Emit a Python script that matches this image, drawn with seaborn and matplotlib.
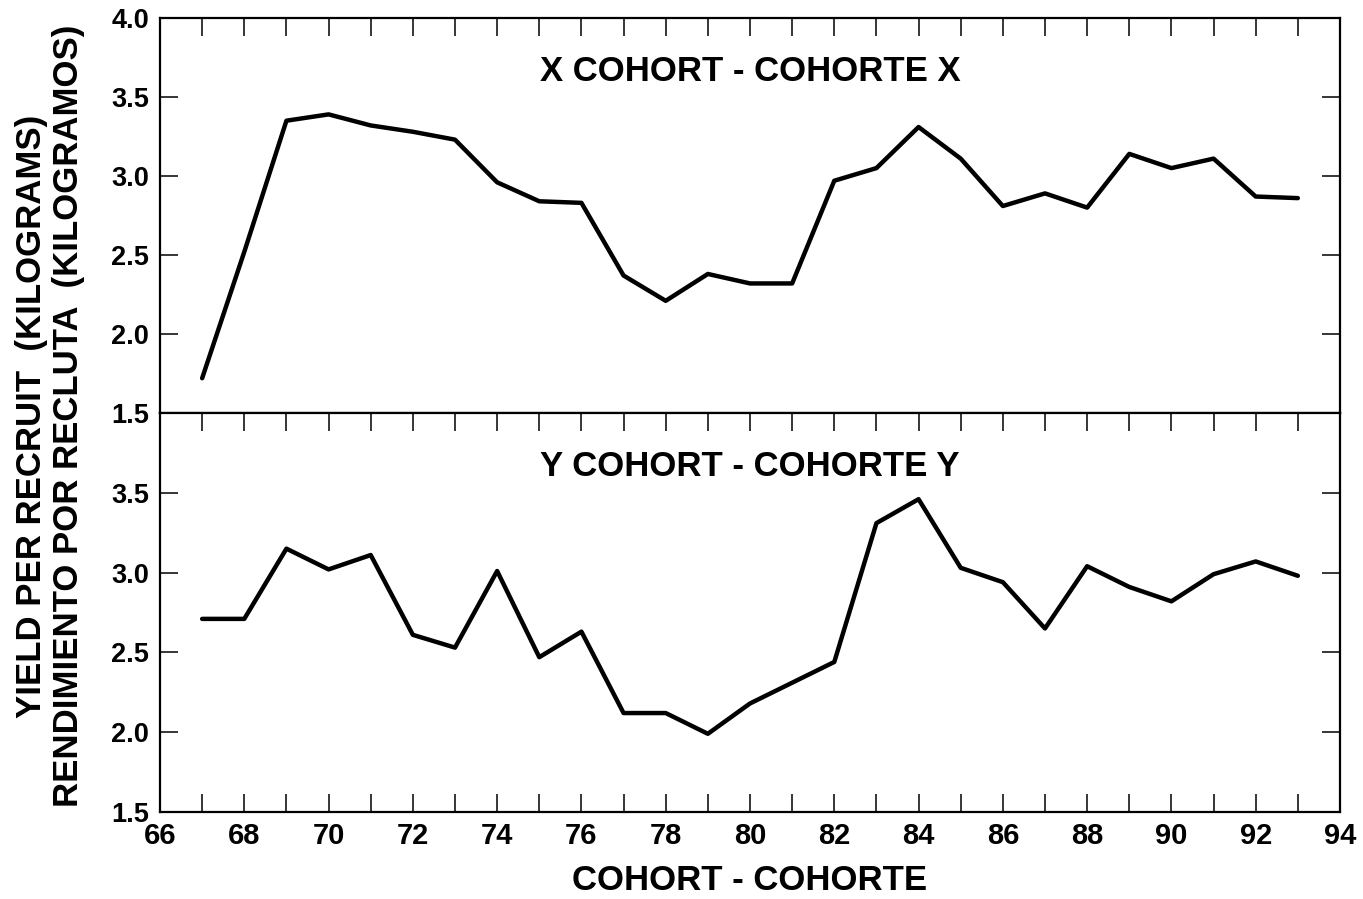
import matplotlib
matplotlib.use("Agg")
import matplotlib.pyplot as plt
from matplotlib.ticker import MultipleLocator
import seaborn as sns
import pandas as pd

# cohort years (19xx)
cohorts = list(range(67, 94))

# yield per recruit, kg
x_cohort = [1.72, 2.52, 3.35, 3.39, 3.32, 3.28, 3.23, 2.96, 2.84, 2.83,
            2.37, 2.21, 2.38, 2.32, 2.32, 2.97, 3.05, 3.31, 3.11, 2.81,
            2.89, 2.80, 3.14, 3.05, 3.11, 2.87, 2.86]
y_cohort = [2.71, 2.71, 3.15, 3.02, 3.11, 2.61, 2.53, 3.01, 2.47, 2.63,
            2.12, 2.12, 1.99, 2.18, 2.31, 2.44, 3.31, 3.46, 3.03, 2.94,
            2.65, 3.04, 2.91, 2.82, 2.99, 3.07, 2.98]

panel_titles = ["X COHORT - COHORTE X", "Y COHORT - COHORTE Y"]
xticks = list(range(66, 95, 2))
yticks_top = [1.5, 2.0, 2.5, 3.0, 3.5, 4.0]
yticks_bottom = [1.5, 2.0, 2.5, 3.0, 3.5]

df = pd.DataFrame({"cohort": cohorts * 2,
                   "ypr": x_cohort + y_cohort,
                   "panel": [panel_titles[0]] * len(cohorts) + [panel_titles[1]] * len(cohorts)})

sns.set_theme(style="ticks")
plt.rcParams["font.family"] = ["Liberation Sans", "DejaVu Sans"]
plt.rcParams["font.weight"] = "bold"
plt.rcParams["text.color"] = "black"
plt.rcParams["axes.labelcolor"] = "black"
plt.rcParams["xtick.labelcolor"] = "black"
plt.rcParams["ytick.labelcolor"] = "black"

fig = plt.figure(figsize=(13.63, 8.99), dpi=100)
ax1 = fig.add_axes([160 / 1363, 1 - 413 / 899, 1180 / 1363, 395 / 899])
ax2 = fig.add_axes([160 / 1363, 1 - 812 / 899, 1180 / 1363, 399 / 899], sharex=ax1)

for ax, title in zip([ax1, ax2], panel_titles):
    sns.lineplot(data=df[df["panel"] == title], x="cohort", y="ypr",
                 color="black", linewidth=3.2, ax=ax)
    ax.set_xlim(66, 94)
    ax.set_ylim(1.5, 4.0)
    ax.set_xlabel("")
    ax.set_ylabel("")
    ax.xaxis.set_major_locator(MultipleLocator(2))
    ax.xaxis.set_minor_locator(MultipleLocator(1))
    for s in ax.spines.values():
        s.set_linewidth(1.6)
        s.set_color("black")
    ax.tick_params(which="both", direction="in", length=13, width=1.1,
                   color="black", labelcolor="black", left=True, right=True)
    ax.tick_params(axis="y", labelsize=19.5, pad=8)
    ax.tick_params(axis="x", labelsize=21, pad=7)
    ax.text(0.5, 0.865, title, transform=ax.transAxes, ha="center", va="center",
            fontsize=25, fontweight="bold", color="black")

ax1.set_yticks(yticks_top)
ax1.set_yticklabels([f"{v:.1f}" for v in yticks_top])
ax1.tick_params(which="both", top=True, bottom=False, labelbottom=False)

ax2.set_yticks(yticks_bottom)
ax2.set_yticklabels([f"{v:.1f}" for v in yticks_bottom])
ax2.set_xticks(xticks)
ax2.set_xticklabels([str(v) for v in xticks])
ax2.tick_params(which="both", top=True, bottom=True, labelbottom=True)
ax2.set_xlabel("COHORT - COHORTE", fontsize=25, fontweight="bold", labelpad=10)

fig.text(50 / 1363, 1 - 416 / 899,
         "YIELD PER RECRUIT  (KILOGRAMS)\nRENDIMIENTO POR RECLUTA  (KILOGRAMOS)",
         rotation=90, ha="center", va="center", fontsize=25, fontweight="bold",
         linespacing=1.15, color="black")

fig.savefig("out.png", dpi=100, facecolor="white")
